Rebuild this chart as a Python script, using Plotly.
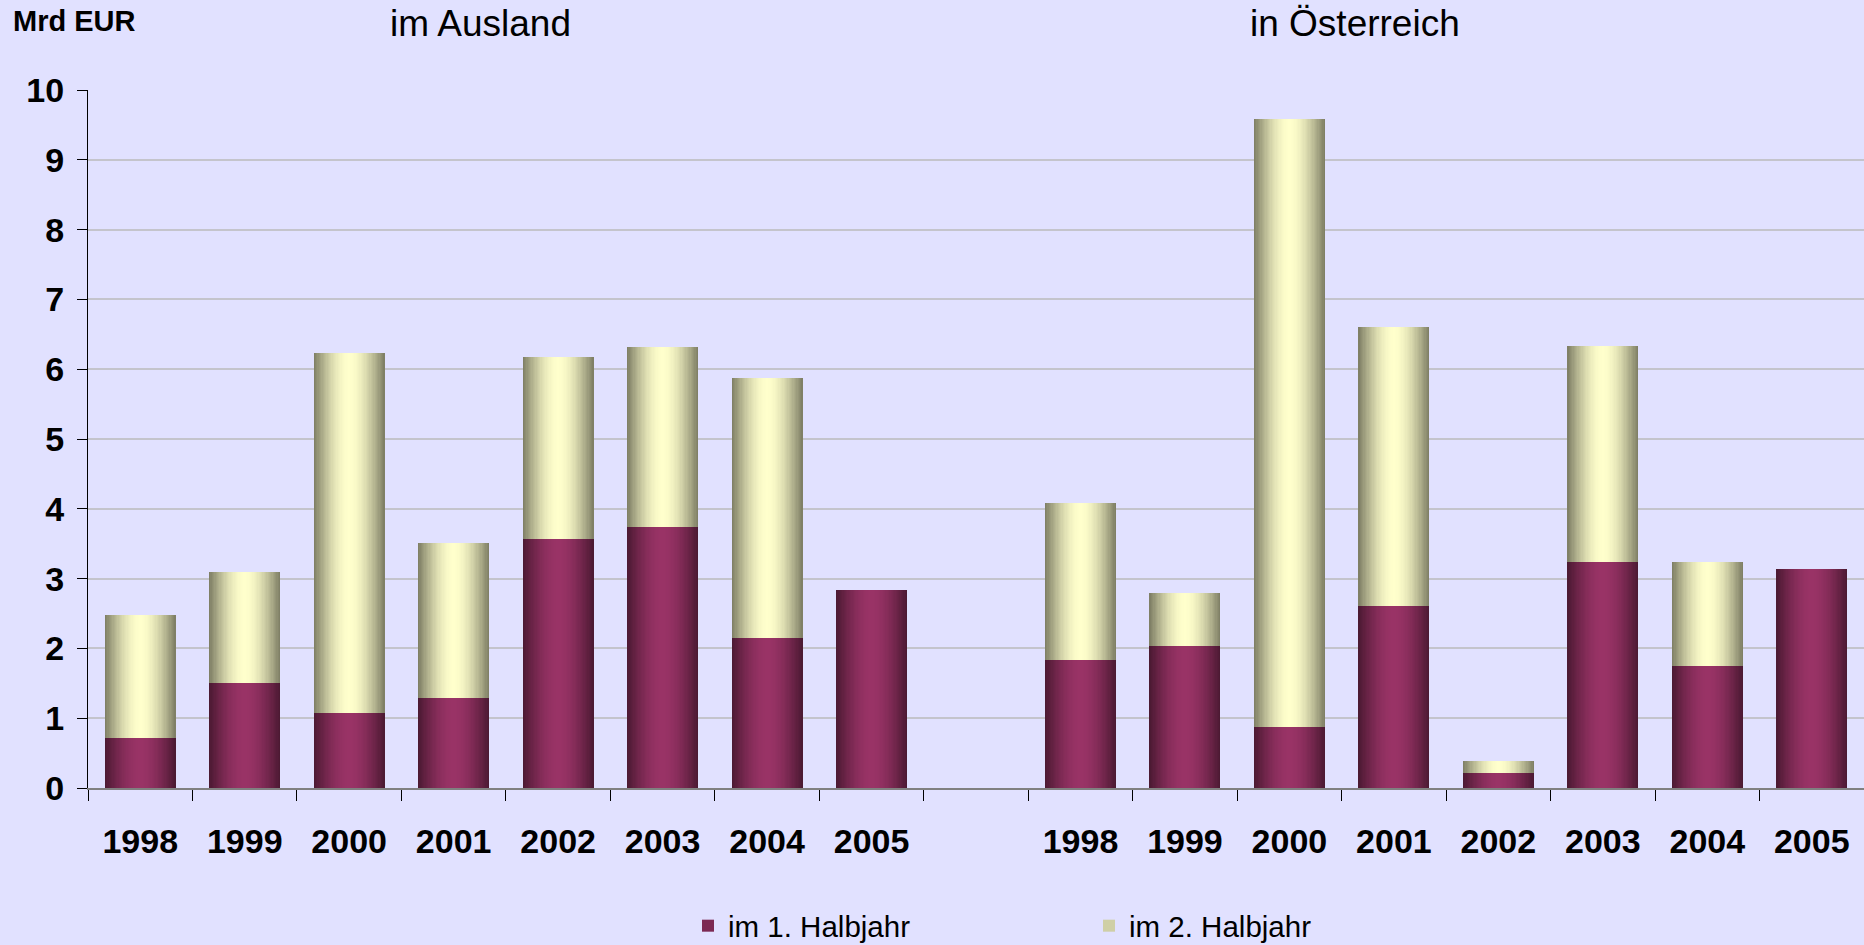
import math
import plotly.graph_objects as go

# ---------------- data ----------------
years = ["1998", "1999", "2000", "2001", "2002", "2003", "2004", "2005"]
groups = ["im Ausland", "in Österreich"]
ausland_h1 = [0.72, 1.50, 1.07, 1.29, 3.57, 3.74, 2.15, 2.84]
ausland_h2 = [1.76, 1.60, 5.16, 2.22, 2.61, 2.58, 3.73, None]
oesterreich_h1 = [1.84, 2.03, 0.88, 2.61, 0.22, 3.24, 1.75, 3.14]
oesterreich_h2 = [2.24, 0.76, 8.71, 4.00, 0.17, 3.09, 1.49, None]
series_names = ["im 1. Halbjahr", "im 2. Halbjahr"]
y_title = "Mrd EUR"

# ---------------- layout helpers ----------------
W, H = 1864, 945
L, R, T, B = 88, 0, 90, 157
PW, PH = W - L - R, H - T - B


def px_x(x):
    return (x - L) / PW


def px_y(y):
    return (H - B - y) / PH


# categories: 8 years, an empty gap slot, 8 years (unique ids, year labels)
cats = [f"A{y}" for y in years] + ["gap"] + [f"O{y}" for y in years]
labels = years + [""] + years

h1 = ausland_h1 + [None] + oesterreich_h1
h2 = ausland_h2 + [None] + oesterreich_h2
base2 = [(a if (a is not None and b is not None) else None) for a, b in zip(h1, h2)]

base_colors = [(153, 51, 102), (255, 255, 204)]
BW = 0.68
N = 28

fig = go.Figure()


def shade(rgb, f):
    return "rgb({},{},{})".format(*[int(round(c * f)) for c in rgb])


for s, (vals, bases) in enumerate([(h1, [0 if v is not None else None for v in h1]), (h2, base2)]):
    for k in range(N):
        d = 1 - k / N  # fraction of half width from centre
        f = 0.5 + 0.5 * math.cos(math.pi * d / 2)
        w = BW * d
        show = (k == int(N * 0.45))
        fig.add_trace(go.Bar(
            x=cats, y=vals, base=bases, width=w,
            marker=dict(color=shade(base_colors[s], f), line=dict(width=0)),
            name=series_names[s], legendgroup=series_names[s],
            showlegend=show, hoverinfo="skip",
        ))

BG = "#E1E1FF"
FONT = "Liberation Sans, Arial, sans-serif"
fig.update_layout(
    width=W, height=H,
    margin=dict(l=L, r=R, t=T, b=B, pad=0, autoexpand=False),
    paper_bgcolor=BG, plot_bgcolor=BG,
    barmode="overlay", bargap=0,
    font=dict(family=FONT, color="black"),
    showlegend=True,
    legend=dict(
        orientation="h", x=px_x(688), xanchor="left", y=px_y(926), yanchor="middle",
        font=dict(size=29.5, family=FONT),
        entrywidth=356, bgcolor="rgba(0,0,0,0)", traceorder="normal",
        itemclick=False,
    ),
    xaxis=dict(
        type="category", categoryorder="array", categoryarray=cats,
        tickmode="array", tickvals=cats, ticktext=labels,
        range=[-0.5, len(cats) - 0.5], automargin=False,
        tickson="boundaries", ticks="outside", ticklen=11, tickwidth=1, tickcolor="black",
        showline=True, linecolor="#808080", linewidth=2,
        showgrid=False, zeroline=False,
        tickfont=dict(size=34, weight="bold", family=FONT),
        ticklabelstandoff=22,
    ),
    yaxis=dict(
        range=[0, 10], dtick=1, tick0=0, automargin=False,
        ticks="outside", ticklen=10, tickwidth=1, tickcolor="black",
        showline=True, linecolor="black", linewidth=1,
        showgrid=True, gridcolor="#C4C4CC", gridwidth=1.5,
        zeroline=False,
        tickfont=dict(size=34, weight="bold", family=FONT),
        ticklabelstandoff=6,
    ),
    annotations=[
        dict(text=y_title, xref="paper", yref="paper", x=px_x(11), y=px_y(21),
             xanchor="left", yanchor="middle", showarrow=False,
             font=dict(size=29, weight="bold", family=FONT)),
        dict(text=groups[0], xref="paper", yref="paper", x=px_x(480), y=px_y(24),
             xanchor="center", yanchor="middle", showarrow=False,
             font=dict(size=37, family=FONT)),
        dict(text=groups[1], xref="paper", yref="paper", x=px_x(1355), y=px_y(24),
             xanchor="center", yanchor="middle", showarrow=False,
             font=dict(size=37, family=FONT)),
    ],
)

fig.write_html(
    "out.html",
    config={"displayModeBar": False},
    post_script="document.body.style.margin='0';document.body.style.overflow='hidden';",
)
